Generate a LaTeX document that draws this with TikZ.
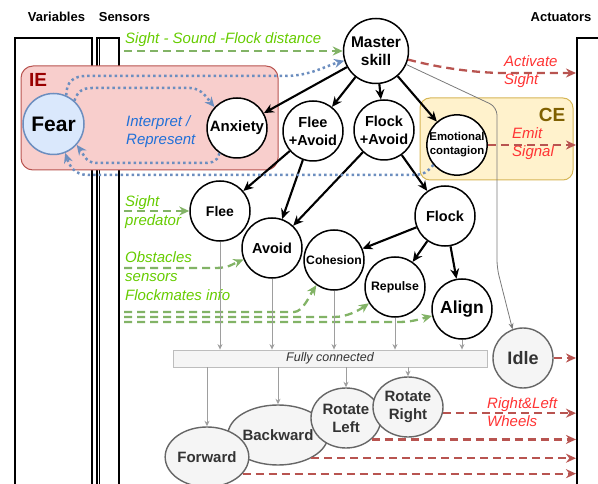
\documentclass[tikz,border=0pt]{standalone}
\usepackage{fontspec}
\setmainfont{Liberation Sans}
\usetikzlibrary{arrows.meta,shapes.geometric,calc}
\definecolor{iefill}{HTML}{F8CECC}
\definecolor{iestroke}{HTML}{B85450}
\definecolor{cefill}{HTML}{FFF2CC}
\definecolor{cestroke}{HTML}{D6B656}
\definecolor{fearfill}{HTML}{DAE8FC}
\definecolor{fearstroke}{HTML}{6C8EBF}
\definecolor{bluedot}{HTML}{6C8EBF}
\definecolor{gline}{HTML}{82B366}
\definecolor{gtext}{HTML}{66CC00}
\definecolor{rline}{HTML}{B85450}
\definecolor{rtext}{HTML}{FF3333}
\definecolor{btext}{HTML}{2070D8}
\definecolor{iered}{HTML}{990000}
\definecolor{cebrown}{HTML}{7F6000}
\definecolor{c666}{HTML}{666666}
\definecolor{c333}{HTML}{333333}
\definecolor{cf5}{HTML}{F5F5F5}
\definecolor{c999}{HTML}{9E9E9E}
\definecolor{c777}{HTML}{7A7A7A}
\definecolor{cbar}{HTML}{BDBDBD}
\begin{document}
\begin{tikzpicture}[x=1pt,y=-1pt,
  circ/.style={circle,draw=black,line width=1.5pt,fill=white,minimum size=60pt,inner sep=0pt,align=center,font=\bfseries\fontsize{14.5}{18}\selectfont},
  grayell/.style={ellipse,draw=c666,line width=1.4pt,fill=cf5,text=c333,inner sep=0pt,align=center,minimum height=60pt,font=\bfseries\fontsize{15}{18}\selectfont},
  hdr/.style={font=\bfseries\fontsize{13}{15}\selectfont,inner sep=0pt},
  col/.style={draw=black,line width=1.3pt},
  blk/.style={line width=2.1pt,-{Stealth[length=10pt,width=9pt]}},
  bdot/.style={draw=bluedot,line width=2.5pt,dash pattern=on 2.5pt off 3pt,-{Stealth[length=10pt,width=9pt]}},
  gdash/.style={draw=gline,line width=2.3pt,dash pattern=on 8pt off 5pt,-{Stealth[length=10pt,width=9pt]}},
  rdash/.style={draw=rline,line width=2.3pt,dash pattern=on 8pt off 5pt,-{Stealth[length=10pt,width=9pt]}},
  garr/.style={draw=c999,line width=0.9pt,-{Stealth[length=5.5pt,width=5pt]}},
  glab/.style={text=gtext,font=\itshape\fontsize{15}{19}\selectfont,inner sep=0pt,align=left,anchor=west},
  rlab/.style={text=rtext,font=\itshape\fontsize{15}{18}\selectfont,inner sep=0pt,align=left,anchor=west},
  blab/.style={text=btext,font=\itshape\fontsize{15}{18}\selectfont,inner sep=0pt,align=left,anchor=west}
]
\clip (0,0) rectangle (598,484);
% headers
\node[hdr] (hv) at (56.5,17) {Variables};
\node[hdr] (hs) at (124.5,17) {Sensors};
\node[hdr] (ha) at (561,17) {Actuators};
% columns
\draw[col] (15,38) rectangle (92,500);
\draw[col] (97,38) rectangle (119,500);
\draw[col] (99.4,38) -- (99.4,500);
\draw[col] (577,38) rectangle (620,500);
\coordinate (xa) at (576,0);
% IE and CE boxes
\draw[draw=iestroke,fill=iefill,line width=1pt,rounded corners=12pt] (21,66) rectangle (278,170);
\node[text=iered,font=\bfseries\fontsize{19}{20}\selectfont,inner sep=0pt] (ielab) at (38,80) {IE};
\draw[draw=cestroke,fill=cefill,line width=1pt,rounded corners=10pt] (420,98) rectangle (573,180);
\node[text=cebrown,font=\bfseries\fontsize{19}{20}\selectfont,inner sep=0pt] (celab) at (552,115) {CE};
% nodes
\node[circ,draw=fearstroke,fill=fearfill,minimum size=61pt,font=\bfseries\fontsize{21}{24}\selectfont] (fear) at (53.5,124) {Fear};
\node[circ,font=\bfseries\fontsize{15}{18}\selectfont] (anx) at (237,128) {Anxiety};
\node[circ,minimum size=65pt,font=\bfseries\fontsize{15.5}{18.5}\selectfont] (master) at (376,51) {Master\\skill};
\node[circ] (fa) at (313,131) {Flee\\+Avoid};
\node[circ] (fka) at (384,130) {Flock\\+Avoid};
\node[circ,font=\bfseries\fontsize{11.4}{14}\selectfont] (emo) at (457,145) {Emotional\\contagion};
\node[circ,font=\bfseries\fontsize{14}{17}\selectfont] (flee) at (220,211) {Flee};
\node[circ] (avoid) at (272,248) {Avoid};
\node[circ] (flock) at (445,216) {Flock};
\node[circ,font=\bfseries\fontsize{12.2}{14}\selectfont] (coh) at (334,260) {Cohesion};
\node[circ,font=\bfseries\fontsize{12.3}{14}\selectfont] (rep) at (395,287) {Repulse};
\node[circ,font=\bfseries\fontsize{17.5}{20}\selectfont] (align) at (462,309) {Align};
\node[circ,draw=c666,line width=1.4pt,fill=cf5,text=c333,font=\bfseries\fontsize{18}{20}\selectfont] (idle) at (523,358) {Idle};
\node[draw=cbar,fill=cf5,line width=0.8pt,minimum width=314pt,minimum height=17pt,inner sep=0pt,text=c333,font=\itshape\fontsize{12.5}{14}\selectfont] (fc) at (330,358.5) {Fully connected};
\node[grayell,minimum width=86pt] (back) at (278,435) {Backward};
\node[grayell,minimum width=70pt] (rotl) at (346,418) {Rotate\\Left};
\node[grayell,minimum width=70pt] (rotr) at (408,407) {Rotate\\Right};
\node[grayell,minimum width=76pt] (fwd) at (207,457) {Forward};
% labels
\node[glab] (t1) at (125,40) {Sight - Sound -Flock distance};
\node[glab,font=\itshape\fontsize{15}{18.5}\selectfont] (t2) at (125,212) {Sight\\predator};
\node[glab] (t3) at (125,276) {Obstacles\\sensors\\Flockmates info};
\node[blab] (t4) at (126,132) {Interpret /\\Represent};
\node[rlab] (t5) at (504,72) {Activate\\Sight};
\node[rlab] (t6) at (512,144) {Emit\\Signal};
\node[rlab] (t7) at (487,412) {Right\&Left\\Wheels};
% black arrows
\draw[blk] (master) -- (anx);
\draw[blk] (master) -- (fa);
\draw[blk] (master) -- (fka);
\draw[blk] (master) -- (emo);
\draw[blk] (fa) -- (flee);
\draw[blk] (fa) -- (avoid);
\draw[blk] (fka) -- (avoid);
\draw[blk] (fka) -- (flock);
\draw[blk] (flock) -- (coh);
\draw[blk] (flock) -- (rep);
\draw[blk] (flock) -- (align);
% blue dotted
\draw[bdot] (fear.66) .. controls +(0,-14) and +(-12,0) .. (86,76) -- (285,76) .. controls +(25,0) and +(-18,5) .. (master.197);
\draw[bdot] (fear.48) .. controls +(3,-9) and +(-10,0) .. (92,88) -- (190,88) .. controls +(12,0) and +(-6,-7) .. (anx.137);
\draw[bdot] (anx.-125) .. controls +(-2,10) and +(10,0) .. (200,163) -- (96,163) .. controls +(-10,0) and +(6,8) .. (fear.-42);
\draw[bdot] (emo.220) .. controls +(-6,7) and +(12,0) .. (412,175) -- (88,175) .. controls +(-14,0) and +(4,12) .. (fear.-68);
% green dashed
\coordinate (gs1) at (124,51);
\coordinate (gs2) at (124,211);
\coordinate (gs3) at (124,268);
\coordinate (gs4) at (124,312);
\coordinate (gs5) at (124,317);
\coordinate (gs6) at (124,322);
\draw[gdash] (gs1) -- (master.west |- gs1);
\draw[gdash] (gs2) -- (flee.west);
\draw[gdash] (gs3) -- (215,268) .. controls +(14,0) and +(-12,5) .. (avoid.202);
\draw[gdash] (gs4) -- (294,312) .. controls +(9,0) and +(-6,9) .. (coh.235);
\draw[gdash] (gs5) -- (334,317) .. controls +(13,0) and +(-10,7) .. (rep.212);
\draw[gdash] (gs6) -- (398,322) .. controls +(15,0) and +(-12,3) .. (align.193);
% red dashed
\draw[rdash] (master.-15) .. controls +(30,8) and +(-30,0) .. (505,73) -- (xa |- 505,73);
\draw[rdash] (emo.east) -- (emo.east -| xa);
\draw[rdash] (idle.east) -- (idle.east -| xa);
\draw[rdash] (rotr.-10) -- (rotr.-10 -| xa);
\draw[rdash] (rotl.-40) -- (rotl.-40 -| xa);
\draw[rdash] (back.-35) -- (back.-35 -| xa);
\draw[rdash] (fwd.-25) -- (fwd.-25 -| xa);
% gray connectors
\draw[draw=c777,line width=0.8pt,rounded corners=8pt,-{Stealth[length=6pt,width=5pt]}] (master.-24) -- (497,107) -- (497,268) -- (idle.110);
\draw[garr] (flee.south) -- (flee.south |- fc.north);
\draw[garr] (avoid.south) -- (avoid.south |- fc.north);
\draw[garr] (coh.south) -- (coh.south |- fc.north);
\draw[garr] (rep.south) -- (rep.south |- fc.north);
\draw[garr] (align.south) -- (align.south |- fc.north);
\draw[garr] (fc.south -| fwd.north) -- (fwd.north);
\draw[garr] (fc.south -| back.north) -- (back.north);
\draw[garr] (fc.south -| rotl.north) -- (rotl.north);
\draw[garr] (fc.south -| rotr.north) -- (rotr.north);
\end{tikzpicture}
\end{document}
